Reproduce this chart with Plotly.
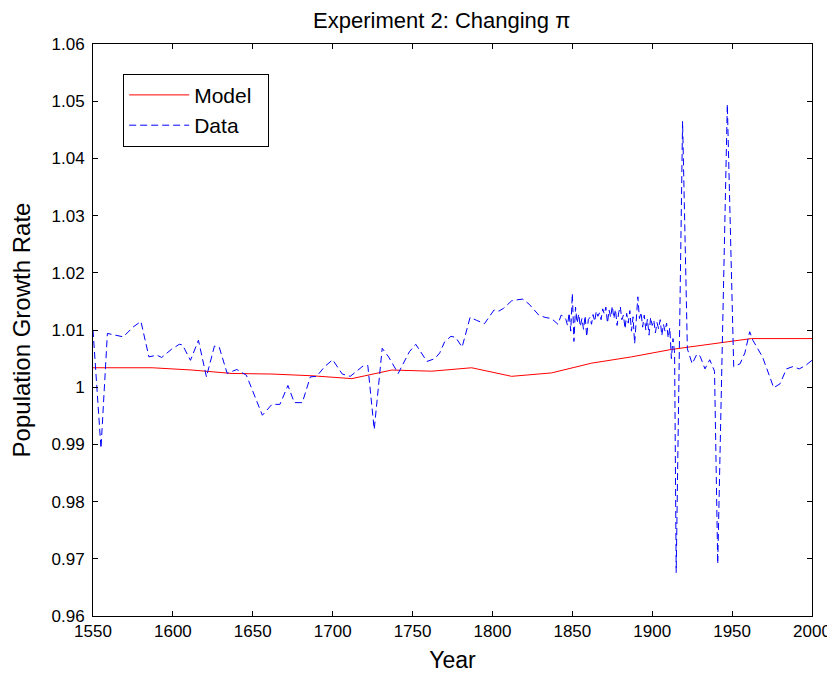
import plotly.graph_objects as go

# Model series (red solid)
model_years = [1550, 1587, 1612, 1637, 1662, 1687, 1712, 1737, 1762, 1787,
               1812, 1837, 1862, 1887, 1912, 1937, 1962, 2000]
model_vals = [1.0034, 1.0034, 1.0030, 1.0024, 1.0023, 1.0020, 1.0015, 1.0030,
              1.0028, 1.0034, 1.0019, 1.0025, 1.0042, 1.0053, 1.0066, 1.0076,
              1.0085, 1.0085]

# Data series (blue dashed) - early (sparse) part
data_years_early = [1550, 1555, 1559, 1569, 1575, 1580, 1585, 1590, 1593, 1599,
                    1604, 1606, 1611, 1616, 1621, 1626, 1629, 1634, 1640, 1646,
                    1656, 1662, 1667, 1672, 1676, 1681, 1686, 1690, 1695, 1700,
                    1706, 1711, 1719, 1722, 1726, 1731, 1735, 1741, 1748, 1752,
                    1759, 1764, 1767, 1770, 1774, 1777, 1781, 1786, 1790, 1795,
                    1801, 1804, 1807, 1812, 1816, 1819, 1823, 1829, 1833, 1837,
                    1841, 1843, 1845]
data_vals_early = [1.0100, 0.9893, 1.0094, 1.0088, 1.0105, 1.0115, 1.0053, 1.0056,
                   1.0052, 1.0066, 1.0075, 1.0074, 1.0047, 1.0082, 1.0018, 1.0072,
                   1.0070, 1.0024, 1.0031, 1.0021, 0.9951, 0.9970, 0.9970, 1.0003,
                   0.9973, 0.9973, 1.0018, 1.0019, 1.0036, 1.0048, 1.0023, 1.0019,
                   1.0037, 1.0038, 0.9926, 1.0068, 1.0053, 1.0024, 1.0062, 1.0075,
                   1.0045, 1.0050, 1.0060, 1.0079, 1.0089, 1.0087, 1.0070, 1.0122,
                   1.0117, 1.0111, 1.0135, 1.0133, 1.0138, 1.0151, 1.0153, 1.0154,
                   1.0145, 1.0126, 1.0122, 1.0120, 1.0110, 1.0126, 1.0123]

# Data series - annual part
data_years_annual = list(range(1846, 1915))
data_vals_annual = [1.0118, 1.0108, 1.0130, 1.0098, 1.0164, 1.0080, 1.0140, 1.0112,
                    1.0128, 1.0106, 1.0120, 1.0101, 1.0125, 1.0088, 1.0118, 1.0122,
                    1.0110, 1.0127, 1.0115, 1.0133, 1.0124, 1.0130, 1.0118, 1.0137,
                    1.0128, 1.0140, 1.0112, 1.0135, 1.0122, 1.0142, 1.0120, 1.0136,
                    1.0108, 1.0130, 1.0141, 1.0118, 1.0126, 1.0102, 1.0129, 1.0112,
                    1.0134, 1.0098, 1.0123, 1.0076, 1.0115, 1.0158, 1.0120, 1.0131,
                    1.0105, 1.0126, 1.0100, 1.0119, 1.0091, 1.0122, 1.0108, 1.0117,
                    1.0095, 1.0113, 1.0102, 1.0118, 1.0090, 1.0110, 1.0098, 1.0112,
                    1.0086, 1.0104, 1.0050, 1.0085, 1.0060]

# Data series - late part
data_years_late = [1915, 1919, 1922, 1925, 1928, 1930, 1933, 1936, 1939, 1941,
                   1947, 1951, 1955, 1958, 1961, 1963, 1969, 1974, 1976, 1980,
                   1984, 1988, 1992, 1996, 2000]
data_vals_late = [0.9676, 1.0465, 1.0067, 1.0041, 1.0058, 1.0054, 1.0032, 1.0048,
                  1.0028, 0.9691, 1.0495, 1.0036, 1.0041, 1.0060, 1.0097, 1.0082,
                  1.0053, 1.0015, 0.9999, 1.0006, 1.0032, 1.0036, 1.0032, 1.0038,
                  1.0047]

data_years = data_years_early + data_years_annual + data_years_late
data_vals = data_vals_early + data_vals_annual + data_vals_late

x_ticks = [1550, 1600, 1650, 1700, 1750, 1800, 1850, 1900, 1950, 2000]
y_ticks = [0.96, 0.97, 0.98, 0.99, 1.00, 1.01, 1.02, 1.03, 1.04, 1.05, 1.06]
y_tick_text = ["0.96", "0.97", "0.98", "0.99", "1", "1.01", "1.02", "1.03",
               "1.04", "1.05", "1.06"]

FONT = "Liberation Sans, Arial, sans-serif"

fig = go.Figure()
fig.add_trace(go.Scatter(x=model_years, y=model_vals, mode="lines",
                         name="Model\u00a0\u00a0",
                         line=dict(color="#ff0000", width=1)))
fig.add_trace(go.Scatter(x=data_years, y=data_vals, mode="lines", name="Data",
                         line=dict(color="#0000ff", width=1, dash="7px,4px")))

axis_common = dict(showline=True, linecolor="black", linewidth=1, mirror="ticks",
                   ticks="inside", ticklen=5, tickcolor="black", showgrid=False,
                   zeroline=False, automargin=False,
                   tickfont=dict(family=FONT, size=17, color="black"))

# page body has an 8px margin, so the figure is sized to fill the 835x673 window
W, H = 827, 665

fig.update_layout(
    width=W, height=H,
    paper_bgcolor="white", plot_bgcolor="white",
    margin=dict(l=85, r=23, t=36, b=57, autoexpand=False),
    title=dict(text="Experiment 2: Changing π", x=0.485, xanchor="center",
               xref="paper", yref="container", y=1 - 12 / H, yanchor="middle",
               font=dict(family=FONT, size=22, color="black")),
    xaxis=dict(range=[1550, 2000], tickvals=x_ticks,
               title=dict(text="Year", font=dict(family=FONT, size=23, color="black"),
                          standoff=12),
               **axis_common),
    yaxis=dict(range=[0.96, 1.06], tickvals=y_ticks, ticktext=y_tick_text,
               ticklabelstandoff=4,
               title=dict(text="Population Growth Rate",
                          font=dict(family=FONT, size=24, color="black"), standoff=14),
               **axis_common),
    legend=dict(x=0.042, y=0.948, xanchor="left", yanchor="top",
                bordercolor="black", borderwidth=1, bgcolor="white",
                font=dict(family=FONT, size=21, color="black"),
                itemwidth=60, tracegroupgap=0),
    showlegend=True,
)

fig.write_html("out.html")
